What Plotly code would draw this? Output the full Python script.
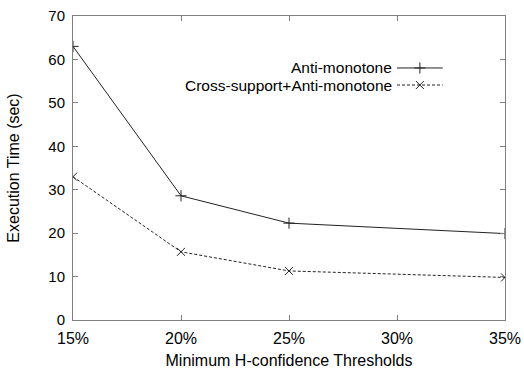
import plotly.graph_objects as go

# Thresholds (percent) and execution times in seconds
thresholds = [15, 20, 25, 35]
tick_vals = [15, 20, 25, 30, 35]
tick_text = ["15%", "20%", "25%", "30%", "35%"]
anti_monotone = [63.0, 28.6, 22.3, 19.9]
cross_support = [33.0, 15.7, 11.3, 9.8]

series_names = ["Anti-monotone", "Cross-support+Anti-monotone"]

FONT = "Liberation Sans, Arial, Helvetica, sans-serif"
LINE = "#222222"
FRAME = "#808080"

fig = go.Figure()

fig.add_trace(go.Scatter(
    x=thresholds, y=anti_monotone, mode="lines+markers", name=series_names[0],
    line=dict(color=LINE, width=1),
    marker=dict(symbol="cross-thin", size=8, line=dict(color=LINE, width=1)),
    showlegend=False,
))
fig.add_trace(go.Scatter(
    x=thresholds, y=cross_support, mode="lines+markers", name=series_names[1],
    line=dict(color=LINE, width=1, dash="3px,2px"),
    marker=dict(symbol="x-thin", size=8, line=dict(color=LINE, width=1)),
    showlegend=False,
))

# Key samples (text on the left, line sample on the right) on an overlay axis
key_y = [0.829, 0.773]
key_styles = [
    dict(dash="solid", symbol="cross-thin", size=8),
    dict(dash="3px,2px", symbol="x-thin", size=8),
]
for name, ky, st in zip(series_names, key_y, key_styles):
    fig.add_trace(go.Scatter(
        x=[0.75, 0.856], y=[ky, ky], xaxis="x2", yaxis="y2", mode="lines",
        line=dict(color=LINE, width=1, dash=st["dash"]), showlegend=False,
        hoverinfo="skip",
    ))
    fig.add_trace(go.Scatter(
        x=[0.803], y=[ky], xaxis="x2", yaxis="y2", mode="markers",
        marker=dict(symbol=st["symbol"], size=st["size"], line=dict(color=LINE, width=1)),
        showlegend=False, hoverinfo="skip",
    ))
    fig.add_annotation(
        x=0.738, y=ky, xref="x2", yref="y2", text=name, showarrow=False,
        xanchor="right", yanchor="middle", xshift=2,
        font=dict(family=FONT, size=15.5, color="#000"),
    )

axis_common = dict(
    showgrid=False, zeroline=False, showline=True, linecolor=FRAME, linewidth=1,
    mirror="ticks", ticks="inside", ticklen=5, tickcolor=FRAME, automargin=False,
)

fig.update_layout(
    width=524, height=369,
    margin=dict(l=73, r=19, t=16, b=49),
    paper_bgcolor="white", plot_bgcolor="white",
    xaxis=dict(
        range=[15, 35], tickvals=tick_vals, ticktext=tick_text,
        tickfont=dict(family=FONT, size=16, color="#000"),
        ticklabelstandoff=4,
        title=dict(text="Minimum H-confidence Thresholds", standoff=10,
                   font=dict(family=FONT, size=16, color="#000")),
        **axis_common,
    ),
    yaxis=dict(
        range=[0, 70], dtick=10,
        tickfont=dict(family=FONT, size=15, color="#000"),
        ticklabelstandoff=4,
        title=dict(text="Execution Time (sec)", standoff=24,
                   font=dict(family=FONT, size=16, color="#000")),
        **axis_common,
    ),
    xaxis2=dict(overlaying="x", range=[0, 1], visible=False, fixedrange=True),
    yaxis2=dict(overlaying="y", range=[0, 1], visible=False, fixedrange=True),
)

fig.write_html("out.html")
